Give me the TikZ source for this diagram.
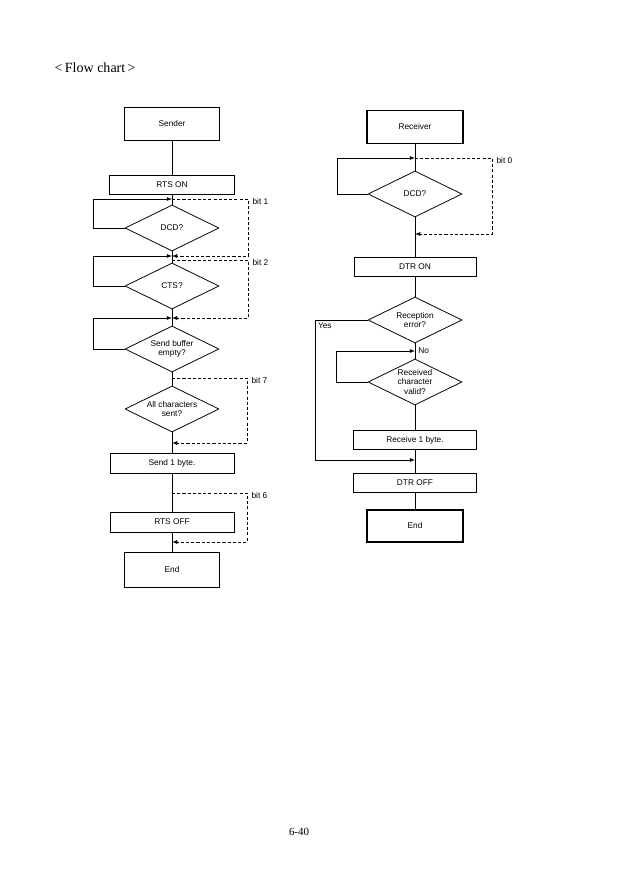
\documentclass[tikz,border=0pt]{standalone}
\usepackage{fontspec}
\setmainfont{Liberation Serif}
\setsansfont{Liberation Sans}
\usetikzlibrary{shapes.geometric,arrows}

\def\pxu{0.3382mm}

\begin{document}
\begin{tikzpicture}[x=\pxu,y=-\pxu,>=latex,
  box/.style={draw,line width=0.9pt,inner sep=0pt,font=\sffamily\fontsize{8}{9.5}\selectfont},
  cond/.style={draw,diamond,aspect=2,inner sep=0pt,line width=0.75pt,align=center,
    minimum width=94*\pxu,minimum height=46*\pxu,font=\sffamily\fontsize{8}{9}\selectfont},
  flow/.style={line width=0.75pt},
  bitline/.style={line width=0.75pt,dash pattern=on 3pt off 2pt},
  bitlabel/.style={anchor=west,inner sep=1pt,xshift=3pt,yshift=-2pt,font=\sffamily\fontsize{8}{9.5}\selectfont}]
\useasboundingbox (0,0) rectangle (621,878);

% Title and page number
\node[anchor=west,font=\fontsize{13.5}{16}\selectfont] (title) at (51,68) {<\,Flow chart\,>};
\node[font=\fontsize{10.5}{12}\selectfont] (pagenum) at (299,832) {6-40};

% Sender side
\node[box,line width=1.2pt,minimum width=95*\pxu,minimum height=33*\pxu] (sender) at (172,124) {Sender};
\node[box,minimum width=125*\pxu,minimum height=19*\pxu] (rtson) at (172,185) {RTS ON};
\node[cond] (dcdA) at (172,228) {DCD?};
\node[cond] (cts) at (172,286) {CTS?};
\node[cond] (sendbuf) at (172,349) {Send buffer\\empty?};
\node[cond] (allsent) at (172,409) {All characters\\sent?};
\node[box,minimum width=124*\pxu,minimum height=20*\pxu] (sendbyte) at (172,463) {Send 1 byte.};
\node[box,minimum width=124*\pxu,minimum height=20*\pxu] (rtsoff) at (172,522) {RTS OFF};
\node[box,line width=1.2pt,minimum width=95*\pxu,minimum height=35*\pxu] (endA) at (172,570) {End};

\coordinate (jA1) at (172,199);
\coordinate (jA2) at (172,256);
\coordinate (jA2b) at (172,260);
\coordinate (jA3) at (172,318);
\coordinate (jA4) at (172,378);
\coordinate (jA5) at (172,443);
\coordinate (jA6) at (172,493);
\coordinate (jA7) at (172,542);

\draw[flow] (sender) -- (rtson) -- (dcdA) -- (cts) -- (sendbuf) -- (allsent) -- (sendbyte) -- (rtsoff) -- (endA);

% Wait loops
\draw[flow,->] (dcdA.west) -- ++(-31,0) |- (jA1);
\draw[flow,->] (cts.west) -- ++(-31,0) |- (jA2);
\draw[flow,->] (sendbuf.west) -- ++(-31,0) |- (jA3);

% Status bits
\draw[bitline,->] (jA1) -- ++(76,0) node[bitlabel] (bitA1) {bit 1} |- (jA2);
\draw[bitline,->] (jA2b) -- ++(76,0) node[bitlabel] (bitA2) {bit 2} |- (jA3);
\draw[bitline,->] (jA4) -- ++(75,0) node[bitlabel] (bitA7) {bit 7} |- (jA5);
\draw[bitline,->] (jA6) -- ++(75,0) node[bitlabel] (bitA6) {bit 6} |- (jA7);

% Receiver side
\node[box,line width=1.2pt,minimum width=96*\pxu,minimum height=33*\pxu] (receiver) at (415,127) {Receiver};
\node[cond] (dcdB) at (415,194) {DCD?};
\node[box,minimum width=122*\pxu,minimum height=19*\pxu] (dtron) at (415,267) {DTR ON};
\node[cond] (recerr) at (415,320) {Reception\\error?};
\node[cond] (recvalid) at (415,382) {Received\\character\\valid?};
\node[box,minimum width=123*\pxu,minimum height=19*\pxu] (recbyte) at (415,440) {Receive 1 byte.};
\node[box,minimum width=123*\pxu,minimum height=19*\pxu] (dtroff) at (415,483) {DTR OFF};
\node[box,line width=1.2pt,minimum width=96*\pxu,minimum height=32*\pxu] (endB) at (415,526) {End};

\coordinate (jB1) at (415,158);
\coordinate (jB2) at (415,234);
\coordinate (jB3) at (415,351);
\coordinate (jB4) at (415,460);

\draw[flow] (receiver) -- (dcdB) -- (dtron) -- (recerr) -- (recvalid) -- (recbyte) -- (dtroff) -- (endB);

\draw[flow,->] (dcdB.west) -- ++(-30,0) |- (jB1);
\draw[bitline,->] (jB1) -- ++(77,0) node[bitlabel] (bitB0) {bit 0} |- (jB2);

\draw[flow,->] (recerr.west) -- ++(-52,0) node[anchor=north west,inner sep=2pt,font=\sffamily\fontsize{8}{9.5}\selectfont] (yes) {Yes} |- (jB4);
\draw[flow,->] (recvalid.west) -- ++(-31,0) |- (jB3);
\node[anchor=west,inner sep=3pt,font=\sffamily\fontsize{8}{9.5}\selectfont] (no) at (jB3) {No};
\end{tikzpicture}
\end{document}
